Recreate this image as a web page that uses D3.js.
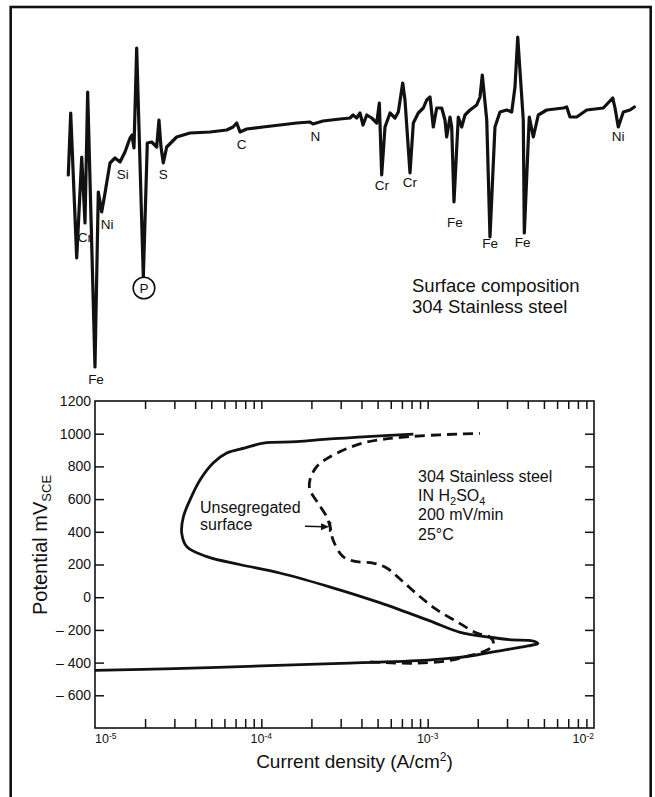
<!DOCTYPE html>
<html>
<head>
<meta charset="utf-8">
<script src="https://cdn.jsdelivr.net/npm/d3@7"></script>
<style>
  html, body { margin: 0; padding: 0; background: #fff; }
  svg { display: block; }
  text { font-family: "Liberation Sans", Arial, Helvetica, sans-serif; fill: #111; }
</style>
</head>
<body>
<svg id="chart" width="655" height="797"></svg>
<script>
// ---------- Top panel: Auger spectrum (energy in eV, dN/dE arbitrary units) ----------
const specEnergy = [5.5, 9.2, 18.4, 26.1, 31.1, 35.2, 46.4, 51.5, 56.7, 61.8, 69.4, 77.1, 84.8, 92.4, 100.1, 103.1, 106.2, 110.3, 120.5, 126.6,
  133.3, 141, 144.5, 147.6, 151.1, 156.3, 171.6, 192, 222.7, 248.3, 258, 263.6, 268.7, 278.9, 304, 330, 355.6, 376, 380.5, 395.9,
  422, 437.3, 441.9, 447.5, 452.6, 457.2, 462.9, 470.5, 478.2, 482.2, 485.8, 490.9, 498.6, 506.2, 511.3, 518, 521.5, 529.2, 534.3, 541.9,
  549.6, 554.8, 559.9, 564.9, 570.1, 577.8, 582.8, 585.4, 590.5, 593.1, 596.6, 603.2, 608.4, 613.5, 621.2, 631.4, 636.5, 640, 646.8, 651.8,
  659.4, 667.1, 677.4, 685.1, 690.1, 694.3, 702.8, 704.4, 712, 718.2, 725.8, 738.7, 764.1, 769.4, 774.4, 784.7, 800, 825.5, 839.9, 843.4,
  848.4, 856.1, 866.3, 873];
const specSignal = [25, 87, -58, 43, -23, 108, -167, 8, -12, 7, 37, 42, 38, 48, 62, 65, 52, 152, -77, 57,
  58, 53, 80, 53, 37, 53, 63, 67, 68, 70, 73, 77, 68, 71, 73, 75, 77, 78, 76, 79,
  81, 82, 85, 82, 87, 75, 85, 82, 77, 97, 25, 73, 87, 82, 88, 117, 100, 27, 77, 87,
  92, 100, 103, 73, 92, 92, 80, 63, 83, 73, -2, 83, 73, 85, 90, 95, 103, 125, 80, -37,
  73, 88, 90, 88, 113, 163, 80, -33, 83, 63, 85, 90, 92, 93, 83, 83, 90, 92, 102, 92,
  73, 88, 90, 93];

const peakNames   = ["Cr", "Ni", "Si", "S", "Fe", "C", "N", "Cr", "Cr", "Fe", "Fe", "Fe", "Ni"];
const peakLabelE  = [31, 65, 89, 151, 48, 271, 384, 486, 529, 598, 652, 702, 848];
const peakLabelY  = [-42, -29, 21, 21, -184, 51, 59, 10, 13, -27, -48, -47, 59];
const circledName = "P";
const circledE = 121.5, circledY = -88;

const specTitle = ["Surface composition", "304 Stainless steel"];

// ---------- Bottom panel: polarization curves ----------
const solidCurrent = [1.0e-5, 3.0e-5, 1.0e-4, 3.0e-4, 1.0e-3, 1.5e-3, 2.0e-3, 3.0e-3, 4.0e-3, 4.6e-3,
  4.3e-3, 3.1e-3, 2.37e-3, 1.57e-3, 1.03e-3, 5.2e-4, 2.6e-4, 1.29e-4, 7.4e-5, 4.7e-5,
  3.56e-5, 3.32e-5, 3.40e-5, 3.72e-5, 4.28e-5, 5.13e-5, 6.2e-5, 8.0e-5, 1.03e-4, 1.63e-4,
  2.59e-4, 4.09e-4, 8.2e-4];
const solidPotential = [-448, -437, -420, -405, -385, -370, -352, -320, -298, -283,
  -268, -260, -245, -215, -145, -35, 62, 148, 200, 248,
  309, 393, 492, 594, 717, 821, 882, 913, 943, 951,
  968, 980, 998];

const dashedCurrent = [4.5e-4, 5.6e-4, 8.4e-4, 1.34e-3, 1.75e-3, 2.16e-3, 2.43e-3, 2.48e-3, 2.37e-3, 1.97e-3,
  1.50e-3, 1.14e-3, 9.0e-4, 7.1e-4, 5.67e-4, 4.7e-4, 3.75e-4, 3.1e-4, 2.7e-4, 2.59e-4,
  2.47e-4, 2.19e-4, 1.96e-4, 1.96e-4, 2.15e-4, 2.59e-4, 4.09e-4, 7.8e-4, 2.06e-3];
const dashedPotential = [-395, -400, -404, -388, -360, -333, -303, -272, -245, -219,
  -150, -78, 3, 95, 179, 209, 217, 248, 350, 431,
  492, 576, 656, 717, 798, 859, 943, 982, 1002];

const yTickValues = [1200, 1000, 800, 600, 400, 200, 0, -200, -400, -600];
const yTickLabels = ["1200", "1000", "800", "600", "400", "200", "0", "– 200", "– 400", "– 600"];
const xMajorTicks = [1e-5, 1e-4, 1e-3, 1e-2];
const xMajorExp = ["-5", "-4", "-3", "-2"];

const legendLines = ["304 Stainless steel", "IN H₂SO₄", "200 mV/min", "25°C"];
const noteLines = ["Unsegregated", "surface"];

// ---------- Drawing ----------
const svg = d3.select("#chart");
const FONT = '"Liberation Sans", Arial, Helvetica, sans-serif';

// outer frame
svg.append("rect").attr("x", 10.7).attr("y", 7).attr("width", 640).attr("height", 820)
  .attr("fill", "none").attr("stroke", "#111").attr("stroke-width", 2.6);

// spectrum
const xs = d3.scaleLinear().domain([0, 880]).range([64.7, 638.9]);
const ys = d3.scaleLinear().domain([-200, 200]).range([400, 0]);
const specData = specEnergy.map((e, i) => [e, specSignal[i]]);
svg.append("path").datum(specData)
  .attr("d", d3.line().x(d => xs(d[0])).y(d => ys(d[1])))
  .attr("fill", "none").attr("stroke", "#111").attr("stroke-width", 3.2)
  .attr("stroke-linejoin", "round").attr("stroke-linecap", "round");

svg.append("g").selectAll("text").data(peakNames).join("text")
  .attr("x", (d, i) => xs(peakLabelE[i])).attr("y", (d, i) => ys(peakLabelY[i]))
  .attr("text-anchor", "middle").attr("font-size", 13.5).text(d => d);

svg.append("circle").attr("cx", xs(circledE)).attr("cy", ys(circledY)).attr("r", 10.8)
  .attr("fill", "#fff").attr("stroke", "#111").attr("stroke-width", 1.6);
svg.append("text").attr("x", xs(circledE)).attr("y", ys(circledY) + 5)
  .attr("text-anchor", "middle").attr("font-size", 13.5).text(circledName);

svg.append("g").selectAll("text").data(specTitle).join("text")
  .attr("x", 412).attr("y", (d, i) => 292 + i * 20.5)
  .attr("font-size", 18.5).text(d => d);

// polarization plot
const L = 95, R = 594, T = 401, B = 728;
const x = d3.scaleLog().domain([1e-5, 1e-2]).range([L, R]);
const y = d3.scaleLinear().domain([-800, 1200]).range([B, T]);

const allXTicks = [];
for (let dec = -5; dec < -2; dec++) {
  for (let m = 1; m <= 9; m++) allXTicks.push(m * Math.pow(10, dec));
}
const xTicksInner = allXTicks.filter(v => v > 1.01e-5);

const gAx = svg.append("g");
gAx.append("g").attr("transform", `translate(0,${B})`)
  .call(d3.axisBottom(x).tickValues(xTicksInner).tickSize(-9).tickSizeOuter(0).tickFormat(""));
gAx.append("g").attr("transform", `translate(0,${T})`)
  .call(d3.axisTop(x).tickValues(xTicksInner).tickSize(-8).tickSizeOuter(0).tickFormat(""));
const yl = gAx.append("g").attr("transform", `translate(${L},0)`)
  .call(d3.axisLeft(y).tickValues(yTickValues).tickSize(-9).tickSizeOuter(0).tickPadding(4)
    .tickFormat((d, i) => yTickLabels[i]));
yl.selectAll(".tick line").filter(d => d === 1200).remove();
yl.selectAll(".tick text").attr("font-size", 14).attr("font-family", FONT).attr("fill", "#111");
gAx.append("g").attr("transform", `translate(${R},0)`)
  .call(d3.axisRight(y).tickValues(yTickValues.filter(v => v < 1200)).tickSize(-9).tickSizeOuter(0).tickFormat(""));
gAx.selectAll(".domain").remove();
gAx.selectAll(".tick line").attr("stroke", "#111").attr("stroke-width", 1.5);

svg.append("rect").attr("x", L).attr("y", T).attr("width", R - L).attr("height", B - T)
  .attr("fill", "none").attr("stroke", "#111").attr("stroke-width", 1.6);

// x tick labels 10^n
const xl = svg.append("g").selectAll("text").data(xMajorTicks).join("text")
  .attr("x", d => x(d)).attr("y", B + 15)
  .attr("text-anchor", (d, i) => i === 0 ? "start" : (i === xMajorTicks.length - 1 ? "end" : "middle"))
  .attr("font-size", 12.5);
xl.append("tspan").text("10");
xl.append("tspan").attr("font-size", 8.5).attr("dy", -4.5).text((d, i) => xMajorExp[i]);

// curves
const curve = d3.line().x(d => x(d[0])).y(d => y(d[1])).curve(d3.curveCatmullRom.alpha(0.5));
svg.append("path").datum(solidCurrent.map((c, i) => [c, solidPotential[i]]))
  .attr("d", curve).attr("fill", "none").attr("stroke", "#111").attr("stroke-width", 2.8)
  .attr("stroke-linejoin", "round");
svg.append("path").datum(dashedCurrent.map((c, i) => [c, dashedPotential[i]]))
  .attr("d", curve).attr("fill", "none").attr("stroke", "#111").attr("stroke-width", 2.8)
  .attr("stroke-dasharray", "10,6");

// legend text
const lg = svg.append("g").attr("font-size", 16);
legendLines.forEach((t, i) => {
  const tx = lg.append("text").attr("x", x(8.75e-4)).attr("y", y(705) + i * 19.2);
  if (t.indexOf("₂") >= 0) {
    tx.append("tspan").text("IN H");
    tx.append("tspan").attr("font-size", 11).attr("dy", 4).text("2");
    tx.append("tspan").attr("dy", -4).text("SO");
    tx.append("tspan").attr("font-size", 11).attr("dy", 4).text("4");
  } else {
    tx.text(t);
  }
});

// note + arrow
svg.append("g").selectAll("text").data(noteLines).join("text")
  .attr("x", x(4.28e-5)).attr("y", (d, i) => y(515) + i * 17.5)
  .attr("font-size", 16).text(d => d);
const ax0 = x(1.83e-4), ax1 = x(2.59e-4), ay = y(431);
svg.append("line").attr("x1", ax0).attr("y1", ay - 0.5).attr("x2", ax1 - 6).attr("y2", ay)
  .attr("stroke", "#111").attr("stroke-width", 1.4);
svg.append("path").attr("d", `M${ax1 - 1},${ay} L${ax1 - 9},${ay - 3.5} L${ax1 - 9},${ay + 3.5} Z`).attr("fill", "#111");
svg.append("line").attr("x1", ax1).attr("y1", ay - 5).attr("x2", ax1).attr("y2", ay + 5)
  .attr("stroke", "#111").attr("stroke-width", 2.4);

// axis titles
const xt = svg.append("text").attr("x", (L + R) / 2 + 10).attr("y", 768)
  .attr("text-anchor", "middle").attr("font-size", 19);
xt.append("tspan").text("Current density (A/cm");
xt.append("tspan").attr("font-size", 12).attr("dy", -7).text("2");
xt.append("tspan").attr("dy", 7).text(")");

const yt = svg.append("text").attr("transform", "translate(47,545) rotate(-90)")
  .attr("text-anchor", "middle").attr("font-size", 20);
yt.append("tspan").text("Potential mV");
yt.append("tspan").attr("font-size", 13).attr("dy", 4).text("SCE");
</script>
</body>
</html>
